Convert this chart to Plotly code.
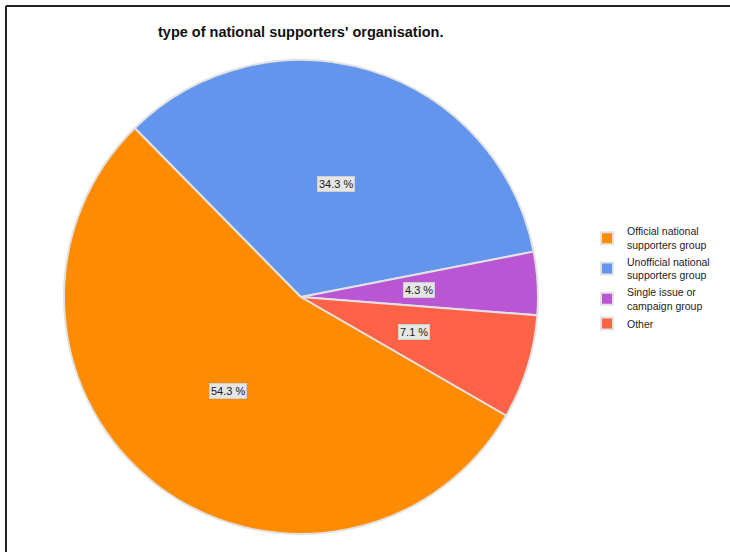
import math
import plotly.graph_objects as go

labels = ["Official national<br>supporters group", "Unofficial national<br>supporters group",
          "Single issue or<br>campaign group", "Other"]
values = [54.3, 34.3, 4.3, 7.1]
colors = ["#FF8C00", "#6495ED", "#BA55D3", "#FF6347"]
title = "type of national supporters' organisation."

W, H = 730, 552
cx, cy, r = 301, 297, 237
rotation = 120  # start angle, clockwise from 12 o'clock
FONT = "Liberation Sans, Arial"

fig = go.Figure(go.Pie(
    labels=labels, values=values, sort=False, direction="clockwise", rotation=rotation,
    marker=dict(colors=colors, line=dict(color="#E2E2E2", width=2)),
    textinfo="none", hoverinfo="label+percent",
    domain=dict(x=[(cx - r) / W, (cx + r) / W], y=[1 - (cy + r) / H, 1 - (cy - r) / H]),
))

# percentage labels at half radius, mid-angle of each slice
total = sum(values)
start = 90 - rotation
annotations = []
for v in values:
    span = v / total * 360
    mid = math.radians(start - span / 2)
    start -= span
    x = cx + 0.5 * r * math.cos(mid)
    y = cy - 0.5 * r * math.sin(mid)
    annotations.append(dict(x=x / W, y=1 - y / H, xref="paper", yref="paper",
                            xanchor="center", yanchor="middle",
                            text=f"{v:.1f} %", showarrow=False,
                            font=dict(family=FONT, size=11, color="#222"),
                            bgcolor="#E6E6E6", bordercolor="#CFCFCF", borderwidth=1, borderpad=1))
annotations.append(dict(x=300 / W, y=1 - 32 / H, xref="paper", yref="paper",
                        xanchor="center", yanchor="middle", text=f"<b>{title}</b>",
                        showarrow=False, font=dict(family=FONT, size=14.5, color="#111")))

fig.update_layout(
    width=W, height=H, margin=dict(l=0, r=0, t=0, b=0),
    paper_bgcolor="white", plot_bgcolor="white",
    annotations=annotations,
    legend=dict(x=587 / W, y=1 - 218 / H, xanchor="left", yanchor="top",
                font=dict(family=FONT, size=10.5, color="#222"),
                itemwidth=30, tracegroupgap=0),
    shapes=[
        dict(type="line", xref="paper", yref="paper", x0=6 / W, x1=6 / W, y0=0, y1=1 - 6 / H,
             line=dict(color="#222", width=2)),
        dict(type="line", xref="paper", yref="paper", x0=6 / W, x1=1, y0=1 - 6 / H, y1=1 - 6 / H,
             line=dict(color="#222", width=2)),
    ],
)

fig.write_html("out.html", config={"displayModeBar": False},
               post_script="document.body.style.margin='0';")
